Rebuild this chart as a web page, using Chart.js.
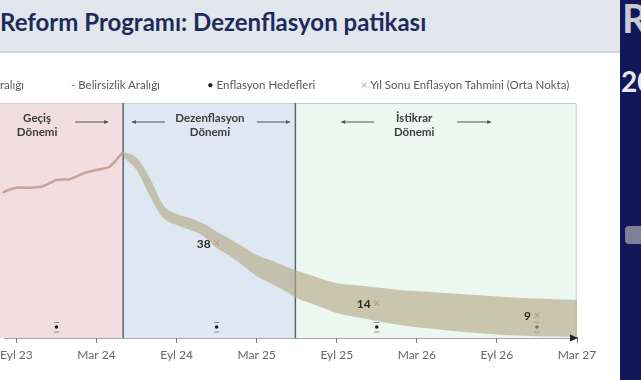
<!DOCTYPE html>
<html><head><meta charset="utf-8">
<script src="https://cdn.jsdelivr.net/npm/chart.js@4/dist/chart.umd.min.js"></script>
<style>
html,body{margin:0;padding:0;background:#fff;width:641px;height:380px;overflow:hidden;position:relative;font-family:Lato,'Open Sans',sans-serif;}
canvas{position:absolute;left:0;top:0;}
#title{position:absolute;left:0;top:0;width:620px;height:51px;background:#e2e7ed;border-bottom:2px solid #cdd4dc;z-index:2;}
#title span{position:absolute;left:0;top:7px;font-size:24px;font-weight:bold;color:#1d2b5b;white-space:nowrap;}
#strip{position:absolute;left:620px;top:0;width:21px;height:380px;background:#121758;overflow:hidden;z-index:2;}
#strip .r{position:absolute;left:2px;top:-6px;font-size:40px;font-weight:bold;color:#c9cad4;}
#strip .y{position:absolute;left:1px;top:64px;font-size:28px;font-weight:bold;color:#e8e8ee;}
#strip .g{position:absolute;left:5px;top:226px;width:20px;height:18px;background:#9a9ca6;border-radius:4px;opacity:.8;}
.lg{position:absolute;top:78px;font-size:11.5px;color:#5a5a5a;white-space:nowrap;z-index:2;}
</style></head>
<body>
<canvas id="c" width="641" height="380"></canvas>
<div id="title"><span>Reform Programı: Dezenflasyon patikası</span></div>
<div id="strip"><div class="r">R</div><div class="y">20</div><div class="g"></div></div>
<div class="lg" style="left:0px">ralığı</div>
<div class="lg" style="left:71px"><span style="color:#777">-</span> Belirsizlik Aralığı</div>
<div class="lg" style="left:207px"><span style="color:#222">•</span> Enflasyon Hedefleri</div>
<div class="lg" style="left:361px"><span style="color:#d49a9a">×</span> Yıl Sonu Enflasyon Tahmini (Orta Nokta)</div>
<script>
// x values are months counted from Sep 2023 (0 = Eyl 23)
const tickLabels = ['Eyl 23','Mar 24','Eyl 24','Mar 25','Eyl 25','Mar 26','Eyl 26','Mar 27'];
const tickMonths = [0,6,12,18,24,30,36,42];

const actualMonths = [-2,-1,0,1,2,3,4,5,6,7,8];
const actualValues = [47,58,60.1,60.1,60.7,63.2,63.5,65.8,67.2,68.5,74.5];

const bandStartMonth = 8;
const bandUpper = [74.4,72.2,64.0,53.2,49.6,48.0,45.8,42.6,39.6,36.4,33.2,31.2,29.0,27.0,25.2,23.4,21.9,21.3,20.8,20.2,19.6,19.1,18.8,18.4,18.0,17.7,17.3,17.0,16.6,16.3,16.0,15.8,15.6,15.4,15.2];
const bandLower = [72.4,67.2,56.8,48.0,45.2,43.2,40.8,36.0,32.8,28.8,24.8,22.0,19.2,16.0,14.0,12.0,10.0,8.8,7.8,6.8,5.8,5.0,4.3,3.8,3.2,2.7,2.2,1.8,1.4,1.1,0.9,0.7,0.6,0.5,0.4];

const forecastMonths = [15,27,39];
const forecastValues = [38,14,9];

const targetMonths = [3,15,27,39];
const targetValues = [4.4,4.4,4.4,4.4];
const targetHigh = [6.2,6.2,6.2,6.2];
const targetLow = [2.4,2.4,2.4,2.4];

const phaseBounds = [8,20.9,41.9];
const phaseTitles = [['Geçiş','Dönemi'],['Dezenflasyon','Dönemi'],['İstikrar','Dönemi']];
const phaseLabelMonths = [1.55,14.5,29.8];

const pts = (xs, ys) => xs.map((x,i)=>({x:x,y:ys[i]}));
const bandMonths = bandUpper.map((_,i)=>bandStartMonth+i);

function arrow(ctx,x1,x2,y,dir){
  ctx.beginPath();ctx.moveTo(x1,y);ctx.lineTo(x2,y);ctx.stroke();
  const hx = dir>0?x2:x1;
  ctx.beginPath();ctx.moveTo(hx,y);ctx.lineTo(hx-dir*4,y-2);ctx.lineTo(hx-dir*4,y+2);ctx.closePath();ctx.fill();
}

const bgPlugin = {
  id:'bg',
  beforeDatasetsDraw(chart){
    const ctx=chart.ctx, xs=chart.scales.x, ca=chart.chartArea;
    const p1=xs.getPixelForValue(phaseBounds[0]), p2=xs.getPixelForValue(phaseBounds[1]), p3=xs.getPixelForValue(phaseBounds[2]);
    ctx.save();
    ctx.fillStyle='#f3dedf'; ctx.fillRect(0,ca.top,p1,ca.bottom-ca.top);
    ctx.fillStyle='#dfe8f2'; ctx.fillRect(p1,ca.top,p2-p1,ca.bottom-ca.top);
    ctx.fillStyle='#ecf7f1'; ctx.fillRect(p2,ca.top,p3-p2,ca.bottom-ca.top);
    ctx.lineWidth=1;
    ctx.strokeStyle='#e6cfd2'; ctx.beginPath(); ctx.moveTo(0,ca.top+0.5); ctx.lineTo(p1,ca.top+0.5); ctx.stroke();
    ctx.strokeStyle='#c6d3e0'; ctx.beginPath(); ctx.moveTo(p1,ca.top+0.5); ctx.lineTo(p2,ca.top+0.5); ctx.stroke();
    ctx.strokeStyle='#b9d0c6'; ctx.beginPath(); ctx.moveTo(p2,ca.top+0.5); ctx.lineTo(p3+0.5,ca.top+0.5); ctx.lineTo(p3+0.5,ca.bottom); ctx.stroke();
    ctx.strokeStyle='#56647a'; ctx.lineWidth=1.5;
    [p1,p2].forEach(p=>{ctx.beginPath();ctx.moveTo(p,ca.top);ctx.lineTo(p,ca.bottom);ctx.stroke();});
    ctx.fillStyle='#3d3d3d'; ctx.font='bold 11.5px Lato, sans-serif'; ctx.textAlign='center'; ctx.textBaseline='middle';
    const cx = phaseLabelMonths.map(m=>xs.getPixelForValue(m));
    phaseTitles.forEach((t,i)=>{ ctx.fillText(t[0],cx[i],ca.top+15); ctx.fillText(t[1],cx[i],ca.top+29); });
    ctx.strokeStyle='#555'; ctx.fillStyle='#555'; ctx.lineWidth=1;
    const ay = ca.top+19;
    arrow(ctx,cx[0]+38,cx[0]+71,ay,1);
    arrow(ctx,cx[1]-78,cx[1]-45,ay,-1);
    arrow(ctx,cx[1]+47,cx[1]+80,ay,1);
    arrow(ctx,cx[2]-73,cx[2]-40,ay,-1);
    arrow(ctx,cx[2]+43,cx[2]+77,ay,1);
    ctx.restore();
  },
  afterDraw(chart){
    const ctx=chart.ctx, xs=chart.scales.x, ys=chart.scales.y, ca=chart.chartArea;
    ctx.save();
    ctx.fillStyle='#2a2a2a'; ctx.font='bold 12px Lato, sans-serif'; ctx.textAlign='right'; ctx.textBaseline='middle';
    forecastMonths.forEach((m,i)=>{ ctx.fillText(String(forecastValues[i]), xs.getPixelForValue(m)-6, ys.getPixelForValue(forecastValues[i])+1); });
    ctx.fillStyle='#222';
    ctx.beginPath(); ctx.moveTo(ca.right+1,ca.bottom); ctx.lineTo(ca.right-7,ca.bottom-3.5); ctx.lineTo(ca.right-7,ca.bottom+3.5); ctx.closePath(); ctx.fill();
    ctx.restore();
  }
};

new Chart(document.getElementById('c'),{
  type:'line',
  data:{datasets:[
    {data:pts(bandMonths,bandUpper),fill:'+1',backgroundColor:'rgba(178,170,132,0.62)',borderWidth:0,pointRadius:0,cubicInterpolationMode:'monotone'},
    {data:pts(bandMonths,bandLower),fill:false,borderWidth:0,pointRadius:0,cubicInterpolationMode:'monotone'},
    {data:pts(actualMonths,actualValues),borderColor:'#c9a29b',borderWidth:2.5,pointRadius:0,tension:0.2,fill:false,clip:{left:false,right:0,top:0,bottom:0}},
    {data:pts(forecastMonths,forecastValues),showLine:false,pointStyle:'crossRot',pointRadius:3.5,borderColor:'#d79a9a',borderWidth:1.2},
    {data:pts(targetMonths,targetHigh),showLine:false,pointStyle:'line',pointRadius:2.5,borderColor:'#8c8c8c',borderWidth:1},
    {data:pts(targetMonths,targetLow),showLine:false,pointStyle:'line',pointRadius:2.5,borderColor:'#8c8c8c',borderWidth:1},
    {data:pts(targetMonths,targetValues),showLine:false,pointStyle:'circle',pointRadius:1.8,backgroundColor:'#1e1e1e',borderColor:'#1e1e1e',borderWidth:0}
  ]},
  options:{
    responsive:false,animation:false,
    layout:{padding:{left:0,right:64,top:103,bottom:0}},
    plugins:{legend:{display:false},tooltip:{enabled:false}},
    scales:{
      x:{type:'linear',min:-0.84,max:42,
        afterBuildTicks(s){ s.ticks = tickMonths.map(v=>({value:v})); },
        afterFit(s){ s.height=42; s.paddingLeft=0; s.paddingRight=0; },
        ticks:{callback:(v)=>{const i=tickMonths.indexOf(v);return i>=0?tickLabels[i]:'';},color:'#666',font:{family:'Lato',size:12},padding:5,maxRotation:0,autoSkip:false},
        grid:{drawOnChartArea:false,tickLength:5,color:'#777'},
        border:{color:'#555',width:1.5}
      },
      y:{display:false,min:0,max:94}
    }
  },
  plugins:[bgPlugin]
});
</script>
</body></html>
